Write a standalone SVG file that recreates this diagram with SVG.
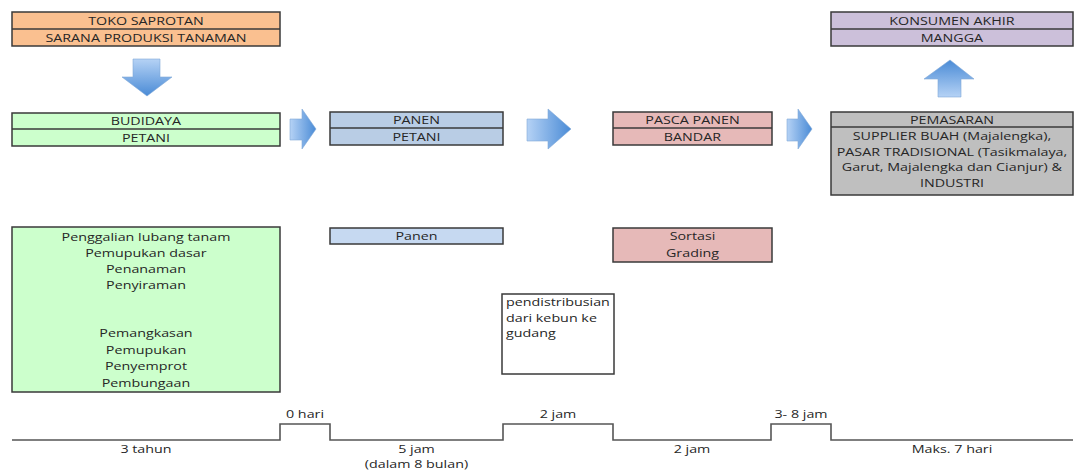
<svg xmlns="http://www.w3.org/2000/svg" width="1075" height="470" viewBox="0 0 1075 470">
  <style>
    .box { stroke: #3a3a3a; stroke-width: 1.5; }
    .div { stroke: #3a3a3a; stroke-width: 1.3; fill: none; }
    text { font-family: "Open Sans", "Liberation Sans", sans-serif; font-size: 11px; fill: #262626; }
    .c { text-anchor: middle; transform-box: fill-box; transform-origin: center; transform: scaleX(1.3); }
    .l { text-anchor: start; transform-box: fill-box; transform-origin: left center; transform: scaleX(1.3); }
    .arrow { stroke: #7fa7d6; stroke-width: 0.6; }
    .timeline { fill: none; stroke: #555555; stroke-width: 1.6; }
  </style>
  <defs>
    <linearGradient id="gRight" x1="0" y1="0" x2="1" y2="0">
      <stop offset="0" stop-color="#b5d2f5"/>
      <stop offset="1" stop-color="#4a8bd6"/>
    </linearGradient>
    <linearGradient id="gDown" x1="0" y1="0" x2="0" y2="1">
      <stop offset="0" stop-color="#b5d2f5"/>
      <stop offset="1" stop-color="#4a8bd6"/>
    </linearGradient>
    <linearGradient id="gUp" x1="0" y1="1" x2="0" y2="0">
      <stop offset="0" stop-color="#b5d2f5"/>
      <stop offset="1" stop-color="#4a8bd6"/>
    </linearGradient>
  </defs>

  <!-- stage headers -->
  <g id="toko-saprotan">
    <rect class="box" x="12" y="12" width="268" height="34" fill="#fac090"/>
    <line class="div" x1="12" y1="29" x2="280" y2="29"/>
    <text class="c" x="146" y="25">TOKO SAPROTAN</text>
    <text class="c" x="146" y="42">SARANA PRODUKSI TANAMAN</text>
  </g>

  <g id="budidaya">
    <rect class="box" x="12" y="113" width="268" height="33" fill="#ccffcc"/>
    <line class="div" x1="12" y1="129" x2="280" y2="129"/>
    <text class="c" x="146" y="125">BUDIDAYA</text>
    <text class="c" x="146" y="142">PETANI</text>
  </g>

  <g id="panen">
    <rect class="box" x="330" y="112" width="173" height="33" fill="#b9cde5"/>
    <line class="div" x1="330" y1="128" x2="503" y2="128"/>
    <text class="c" x="416.5" y="124">PANEN</text>
    <text class="c" x="416.5" y="141">PETANI</text>
  </g>

  <g id="pasca-panen">
    <rect class="box" x="613" y="112" width="159" height="33" fill="#e6b9b8"/>
    <line class="div" x1="613" y1="128" x2="772" y2="128"/>
    <text class="c" x="692.5" y="124">PASCA PANEN</text>
    <text class="c" x="692.5" y="141">BANDAR</text>
  </g>

  <g id="pemasaran">
    <rect class="box" x="831" y="112" width="242" height="83" fill="#bfbfbf"/>
    <line class="div" x1="831" y1="127" x2="1073" y2="127"/>
    <text class="c" x="952" y="124">PEMASARAN</text>
    <text class="c" x="952" y="140">SUPPLIER BUAH (Majalengka),</text>
    <text class="c" x="952" y="156">PASAR TRADISIONAL (Tasikmalaya,</text>
    <text class="c" x="952" y="171">Garut, Majalengka dan Cianjur) &amp;</text>
    <text class="c" x="952" y="187">INDUSTRI</text>
  </g>

  <g id="konsumen-akhir">
    <rect class="box" x="831" y="12" width="242" height="34" fill="#ccc0da"/>
    <line class="div" x1="831" y1="29" x2="1073" y2="29"/>
    <text class="c" x="952" y="25">KONSUMEN AKHIR</text>
    <text class="c" x="952" y="42">MANGGA</text>
  </g>

  <!-- activity boxes -->
  <g id="kegiatan-budidaya">
    <rect class="box" x="12" y="227" width="268" height="165" fill="#ccffcc"/>
    <text class="c" x="146" y="241">Penggalian lubang tanam</text>
    <text class="c" x="146" y="257">Pemupukan dasar</text>
    <text class="c" x="146" y="273">Penanaman</text>
    <text class="c" x="146" y="289">Penyiraman</text>
    <text class="c" x="146" y="337">Pemangkasan</text>
    <text class="c" x="146" y="354">Pemupukan</text>
    <text class="c" x="146" y="370">Penyemprot</text>
    <text class="c" x="146" y="387">Pembungaan</text>
  </g>

  <g id="kegiatan-panen">
    <rect class="box" x="330" y="228" width="173" height="16" fill="#c6d9f1"/>
    <text class="c" x="416.5" y="240">Panen</text>
  </g>

  <g id="kegiatan-pasca-panen">
    <rect class="box" x="613" y="228" width="159" height="34" fill="#e6b9b8"/>
    <text class="c" x="692.5" y="240">Sortasi</text>
    <text class="c" x="692.5" y="257">Grading</text>
  </g>

  <g id="pendistribusian">
    <rect class="box" x="502" y="294" width="112" height="80" fill="#ffffff"/>
    <text class="l" x="506" y="306">pendistribusian</text>
    <text class="l" x="506" y="322">dari kebun ke</text>
    <text class="l" x="506" y="337">gudang</text>
  </g>

  <!-- block arrows between stages -->
  <g id="connectors">
    <path class="arrow" fill="url(#gDown)" d="M133 59 H160 V77 H172 L147 96 L122 77 H133 Z"/>
    <path class="arrow" fill="url(#gRight)" d="M290 119 H302 V109 L316 129 L302 149 V140 H290 Z"/>
    <path class="arrow" fill="url(#gRight)" d="M527 119 H548 V109 L571 129 L548 149 V141 H527 Z"/>
    <path class="arrow" fill="url(#gRight)" d="M787 119 H798 V109 L812 129 L798 149 V141 H787 Z"/>
    <path class="arrow" fill="url(#gUp)" d="M938 97 H961 V79 H974 L950 60 L924 79 H938 Z"/>
  </g>

  <!-- time line -->
  <g id="timeline">
    <path class="timeline" d="M12 440 H280 V424 H330 V440 H503 V424 H613 V440 H771 V424 H831 V440 H1073"/>
    <text class="c" x="305" y="418">0 hari</text>
    <text class="c" x="558" y="418">2 jam</text>
    <text class="c" x="801" y="418">3- 8 jam</text>
    <text class="c" x="146" y="453">3 tahun</text>
    <text class="c" x="416.5" y="453">5 jam</text>
    <text class="c" x="416.5" y="468">(dalam 8 bulan)</text>
    <text class="c" x="692" y="453">2 jam</text>
    <text class="c" x="952" y="453">Maks. 7 hari</text>
  </g>
</svg>
